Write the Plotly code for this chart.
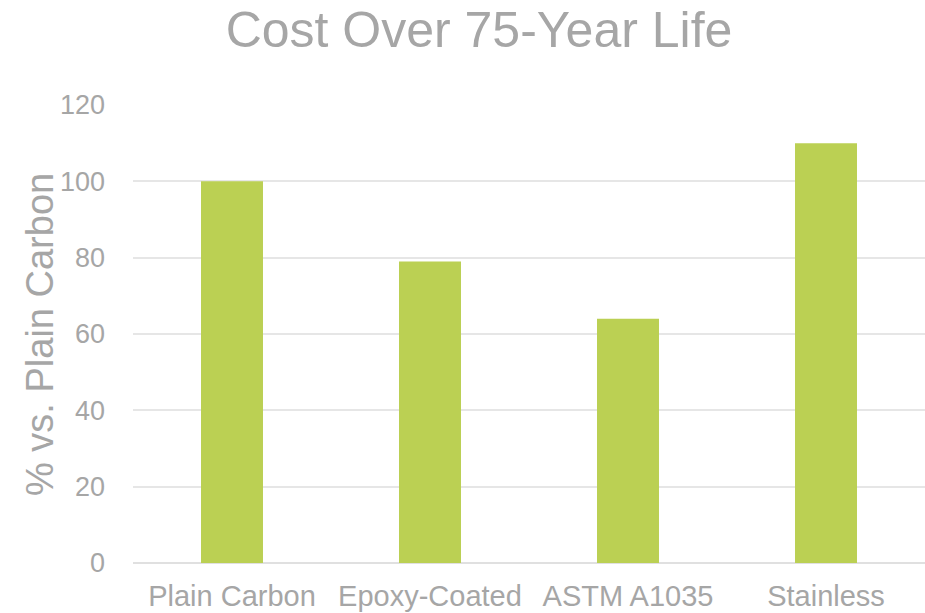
import plotly.graph_objects as go

# Lifetime cost of reinforcing-steel options, relative to plain carbon steel
categories = ["Plain Carbon", "Epoxy-Coated", "ASTM A1035", "Stainless"]
cost_pct = [100, 79, 64, 110]

y_ticks = [0, 20, 40, 60, 80, 100, 120]

GRAY = "#A6A6A6"
GREEN = "#BBD053"
FONT = "Liberation Sans, Arial, sans-serif"

fig = go.Figure(
    go.Bar(
        x=categories,
        y=cost_pct,
        marker=dict(color=GREEN, line=dict(width=0)),
        hoverinfo="x+y",
    )
)

fig.update_layout(
    width=925,
    height=613,
    margin=dict(l=133, r=0, t=105, b=50),
    paper_bgcolor="white",
    plot_bgcolor="white",
    bargap=0.687,
    showlegend=False,
    font=dict(family=FONT, color=GRAY),
    title=dict(
        text="Cost Over 75-Year Life",
        font=dict(family=FONT, size=50, color=GRAY),
        x=479 / 925,
        xanchor="center",
        xref="container",
        y=1 - 29 / 613,
        yanchor="middle",
        yref="container",
    ),
    xaxis=dict(
        showgrid=False,
        showline=False,
        zeroline=False,
        ticks="",
        automargin=False,
        tickfont=dict(family=FONT, size=29, color=GRAY),
        ticklabelstandoff=13,
    ),
    yaxis=dict(
        range=[0, 120],
        tickvals=y_ticks,
        showgrid=True,
        gridcolor="#E6E6E6",
        gridwidth=1.5,
        zeroline=True,
        zerolinecolor="#E0E0E0",
        zerolinewidth=1.5,
        showline=False,
        ticks="",
        automargin=False,
        tickfont=dict(family=FONT, size=27, color=GRAY),
        ticklabelstandoff=27,
    ),
    annotations=[
        dict(
            text="% vs. Plain Carbon",
            textangle=-90,
            xref="paper",
            yref="paper",
            x=(40 - 133) / 792,
            y=(563 - 335) / 458,
            xanchor="center",
            yanchor="middle",
            showarrow=False,
            font=dict(family=FONT, size=38, color=GRAY),
        )
    ],
)

fig.write_html("out.html")
